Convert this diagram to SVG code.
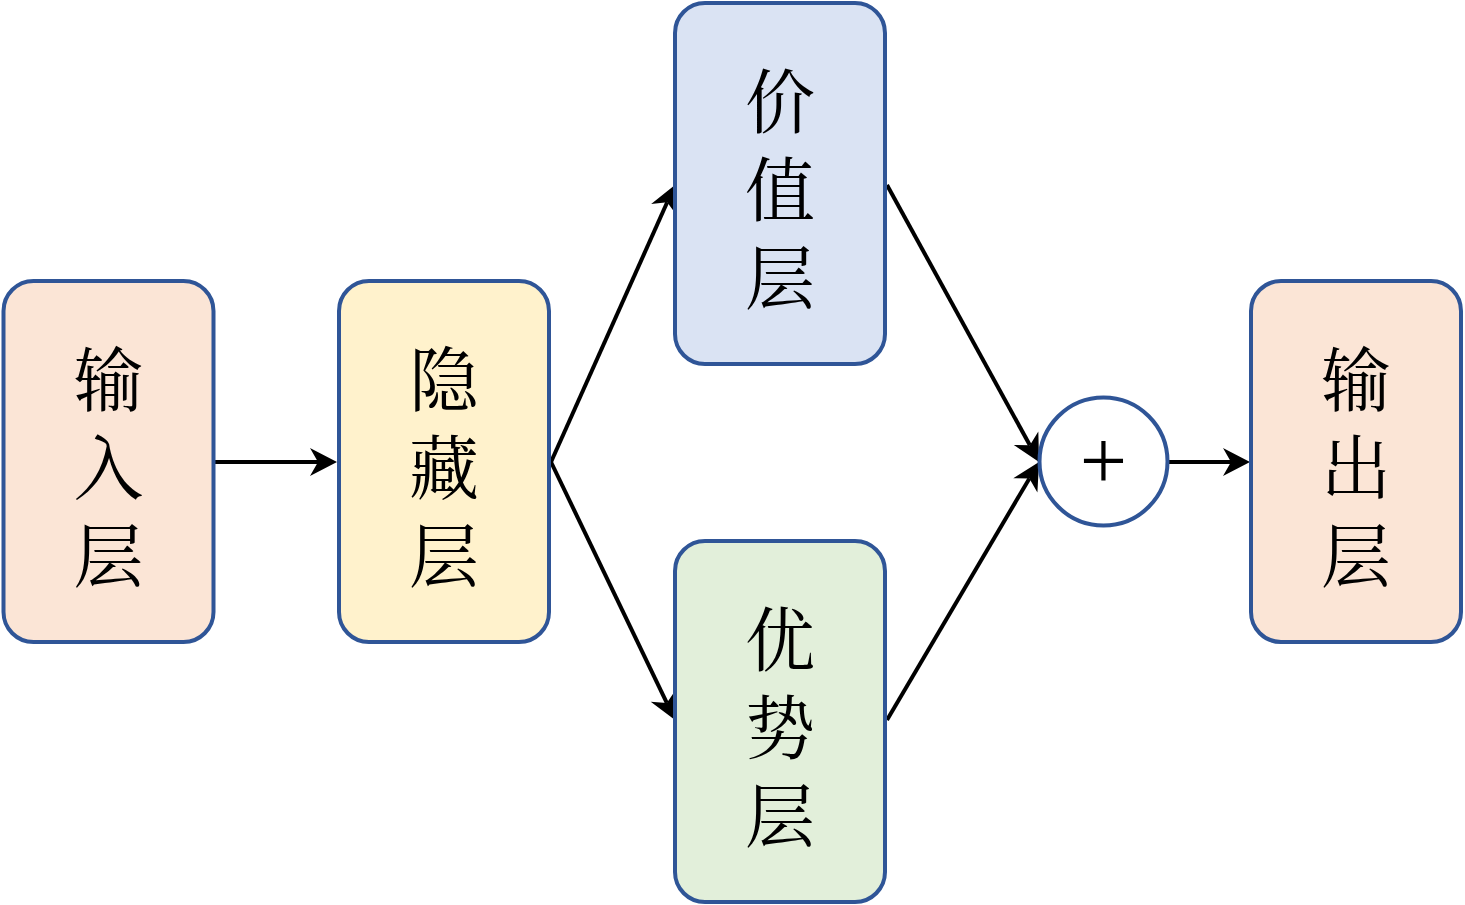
<svg xmlns="http://www.w3.org/2000/svg" width="1465" height="905" viewBox="0 0 1465 905">
<style>
.node{stroke:#2f5597;stroke-width:4}
.lbl{font-family:"Noto Serif CJK SC","Noto Sans CJK SC",serif;font-size:70px;fill:#000;text-anchor:middle;writing-mode:vertical-rl;letter-spacing:18px}
.edge{stroke:#000;stroke-width:4;fill:none}
</style>
<defs>
<marker id="arr" markerUnits="userSpaceOnUse" markerWidth="32" markerHeight="32" viewBox="-2 -16 32 32" refX="8" refY="0" orient="auto">
<path d="M27,0 L0,-14 L8,0 L0,14 Z" fill="#000"/>
</marker>
</defs>
<rect width="1465" height="905" fill="#fff"/>
<g id="connectors">
<line class="edge" x1="215" y1="462" x2="318" y2="462" marker-end="url(#arr)"/>
<line class="edge" x1="551" y1="462" x2="667.2" y2="202.3" marker-end="url(#arr)"/>
<line class="edge" x1="551" y1="462" x2="666.8" y2="702.9" marker-end="url(#arr)"/>
<line class="edge" x1="887" y1="185" x2="1029.9" y2="445.3" marker-end="url(#arr)"/>
<line class="edge" x1="887" y1="720" x2="1029.4" y2="478.4" marker-end="url(#arr)"/>
<line class="edge" x1="1169" y1="462" x2="1231" y2="462" marker-end="url(#arr)"/>
</g>
<g id="input">
<rect class="node" x="3.5" y="281" width="210" height="361" rx="30" fill="#fbe5d6"/>
<text class="lbl" x="108.5" y="476">输入层</text>
</g>
<g id="hidden">
<rect class="node" x="339" y="281" width="210" height="361" rx="30" fill="#fff2cc"/>
<text class="lbl" x="444" y="476">隐藏层</text>
</g>
<g id="value">
<rect class="node" x="675" y="3" width="210" height="361" rx="30" fill="#dae3f3"/>
<text class="lbl" x="780" y="198">价值层</text>
</g>
<g id="advantage">
<rect class="node" x="675" y="541" width="210" height="361" rx="30" fill="#e2efda"/>
<text class="lbl" x="780" y="736">优势层</text>
</g>
<g id="plus">
<circle class="node" cx="1103.5" cy="461.5" r="64" fill="#fff"/>
<text x="1103.5" y="489" font-family="Liberation Serif, serif" font-size="84" text-anchor="middle" fill="#000">+</text>
</g>
<g id="output">
<rect class="node" x="1251" y="281" width="210" height="361" rx="30" fill="#fbe5d6"/>
<text class="lbl" x="1356" y="476">输出层</text>
</g>
</svg>
